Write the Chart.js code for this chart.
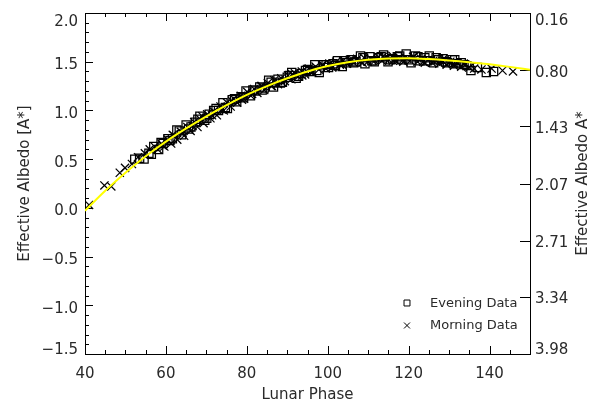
<!DOCTYPE html>
<html>
<head>
<meta charset="utf-8">
<script src="https://cdn.jsdelivr.net/npm/chart.js@4.4.0/dist/chart.umd.min.js"></script>
<style>
  html, body { margin: 0; padding: 0; background: #fff; }
  #wrap { width: 593px; height: 401px; }
</style>
</head>
<body>
<div id="wrap"><canvas id="c" width="593" height="401"></canvas></div>
<script>
// Evening observations (squares)
const eveningPhase = [52.3, 53.5, 54.6, 55.8, 57.0, 58.2, 59.3, 60.5, 61.6, 62.7, 63.9, 65.0, 66.2, 67.3, 68.4,
  69.6, 70.7, 71.8, 73.0, 74.1, 75.2, 76.4, 77.5, 78.6, 79.8, 80.9, 82.0, 83.2, 84.3, 85.4, 86.6, 87.7, 88.8,
  90.0, 91.1, 92.2, 93.4, 94.5, 95.6, 96.8, 97.9, 99.0, 100.2, 101.3, 102.4, 103.6, 104.7, 105.8, 107.0, 108.1,
  109.2, 110.4, 111.5, 112.6, 113.8, 114.9, 116.0, 117.2, 118.3, 119.4, 120.6, 121.7, 122.8, 124.0, 125.1,
  126.2, 127.4, 128.5, 129.6, 130.8, 131.9, 133.0, 134.4, 135.4, 137.0, 139.2, 141.0,
  56.4, 58.8, 61.0, 63.3, 65.6, 67.9, 70.1, 72.4, 74.7, 77.0, 79.2, 81.5, 83.8, 86.0, 88.3, 90.6, 92.8,
  95.0, 97.3, 99.6, 101.9, 104.1, 106.4, 108.7, 110.9, 113.2, 115.5, 117.8, 120.0, 122.3, 124.6, 126.8,
  129.1, 131.4, 133.7];
const eveningAlbedo = [0.50, 0.51, 0.50, 0.56, 0.63, 0.60, 0.66, 0.71, 0.71, 0.80, 0.75, 0.85, 0.83, 0.88, 0.94,
  0.90, 0.96, 1.00, 1.00, 1.08, 1.02, 1.11, 1.09, 1.14, 1.20, 1.15, 1.20, 1.24, 1.23, 1.31, 1.24, 1.32, 1.29,
  1.34, 1.39, 1.33, 1.38, 1.41, 1.40, 1.47, 1.39, 1.47, 1.44, 1.48, 1.51, 1.45, 1.49, 1.52, 1.50, 1.56,
  1.48, 1.55, 1.50, 1.54, 1.57, 1.50, 1.53, 1.55, 1.52, 1.58, 1.49, 1.56, 1.51, 1.54, 1.56,
  1.49, 1.52, 1.53, 1.49, 1.52, 1.48, 1.49, 1.46, 1.41, 1.44, 1.39, 1.40,
  0.55, 0.67, 0.69, 0.79, 0.81, 0.91, 0.92, 1.02, 1.03, 1.12, 1.13, 1.21, 1.21, 1.29, 1.28, 1.36, 1.35,
  1.42, 1.41, 1.47, 1.46, 1.51, 1.49, 1.54, 1.51, 1.55, 1.52, 1.56, 1.52, 1.55, 1.51, 1.54,
  1.50, 1.52, 1.47];

// Morning observations (crosses)
const morningPhase = [41.0, 44.8, 46.5, 48.6, 49.9, 51.6, 53.1, 54.8, 56.0, 57.2, 58.0, 58.9, 59.6, 60.4, 61.3,
  62.0, 62.8, 63.7, 64.5, 65.3, 66.1, 67.0, 67.8, 68.5, 69.3, 70.2, 71.0, 71.8, 72.6, 73.5, 74.3, 75.1, 76.0,
  76.8, 77.6, 78.5, 79.3, 80.1, 81.0, 81.8, 82.6, 83.5, 84.3, 85.2, 86.0, 86.8, 87.7, 88.5, 89.4, 90.2, 91.0,
  91.9, 92.7, 93.6, 94.4, 95.3, 96.1, 97.0, 97.8, 98.7, 99.5, 100.4, 101.2, 102.1, 103.0, 103.8, 104.7, 105.5,
  106.4, 107.3, 108.1, 109.0, 109.9, 110.7, 111.6, 112.5, 113.4, 114.2, 115.1, 116.0, 116.9, 117.8, 118.7,
  119.5, 120.4, 121.3, 122.2, 123.1, 124.0, 124.9, 125.8, 126.7, 127.6, 128.5, 129.4, 130.3, 131.2, 132.1,
  133.0, 134.0, 135.0, 136.2, 138.0, 145.8,
  59.2, 61.7, 64.1, 66.6, 69.0, 71.4, 73.9, 76.3, 78.8, 81.3, 83.7, 86.2, 88.7, 91.2, 93.7, 96.2, 98.6,
  101.1, 103.6, 106.1, 108.6, 111.1, 113.6, 116.1, 118.6, 121.1, 123.6, 126.1, 128.6, 131.1, 133.6, 140.5, 143.2];
const morningAlbedo = [0.03, 0.23, 0.22, 0.36, 0.41, 0.45, 0.52, 0.56, 0.60, 0.63, 0.60, 0.66, 0.63, 0.70, 0.66,
  0.74, 0.70, 0.78, 0.74, 0.83, 0.79, 0.88, 0.83, 0.91, 0.87, 0.96, 0.92, 0.99, 0.95, 1.04, 1.00, 1.08, 1.04,
  1.12, 1.08, 1.15, 1.12, 1.19, 1.15, 1.22, 1.18, 1.25, 1.21, 1.28, 1.25, 1.31, 1.27, 1.33, 1.30, 1.36, 1.32,
  1.38, 1.35, 1.40, 1.37, 1.43, 1.40, 1.45, 1.42, 1.47, 1.43, 1.48, 1.45, 1.50, 1.47, 1.51, 1.48, 1.52,
  1.49, 1.53, 1.50, 1.54, 1.50, 1.53, 1.51, 1.55, 1.51, 1.54, 1.52, 1.56, 1.51, 1.54, 1.50,
  1.53, 1.51, 1.55, 1.50, 1.53, 1.49, 1.52, 1.49, 1.51, 1.48, 1.50, 1.47, 1.50, 1.46, 1.48,
  1.45, 1.47, 1.44, 1.43, 1.42, 1.40,
  0.64, 0.75, 0.77, 0.84, 0.94, 0.95, 1.01, 1.10, 1.11, 1.17, 1.25, 1.25, 1.29, 1.37, 1.36, 1.39, 1.46,
  1.44, 1.47, 1.52, 1.49, 1.51, 1.55, 1.51, 1.52, 1.55, 1.50, 1.51, 1.53, 1.48, 1.48, 1.43, 1.41];

// Fitted phase curve
const fitPhase = [40, 45, 50, 55, 60, 65, 70, 75, 80, 85, 90, 95, 100, 105, 110, 115, 120, 125, 130, 135, 140, 145, 150];
const fitAlbedo = [-0.03, 0.175, 0.36, 0.53, 0.68, 0.815, 0.94, 1.055, 1.16, 1.25, 1.33, 1.40, 1.455, 1.495,
  1.52, 1.533, 1.535, 1.527, 1.513, 1.495, 1.473, 1.447, 1.418];

// Axis ticks and labels
const xMajorTicks = [40, 60, 80, 100, 120, 140];
const xTickLabels = ['40', '60', '80', '100', '120', '140'];
const leftMajorTicks = [2.0, 1.5, 1.0, 0.5, 0.0, -0.5, -1.0, -1.5];
const leftTickLabels = ['2.0', '1.5', '1.0', '0.5', '0.0', '\u22120.5', '\u22121.0', '\u22121.5'];
const rightTicks = [0.16, 0.80, 1.43, 2.07, 2.71, 3.34, 3.98];
const rightTickLabels = ['0.16', '0.80', '1.43', '2.07', '2.71', '3.34', '3.98'];

const FONT = '"DejaVu Sans", sans-serif';
const INK = '#2a2a2a';

function minorList(lo, hi, step) {
  const out = [];
  for (let v = lo; v <= hi + 1e-9; v += step) out.push(Math.round(v * 1000) / 1000);
  return out;
}

const frame = {
  id: 'frame',
  beforeDatasetsDraw(chart) {
    const { ctx, chartArea: a, scales } = chart;
    const x = scales.x, y = scales.y, y2 = scales.y2;
    ctx.save();
    ctx.strokeStyle = '#000';
    ctx.lineWidth = 1;
    ctx.beginPath();
    ctx.rect(a.left + 0.5, a.top + 0.5, a.right - a.left, a.bottom - a.top);
    ctx.stroke();

    ctx.beginPath();
    // bottom & top ticks
    minorList(40, 150, 5).forEach(v => {
      const px = Math.round(x.getPixelForValue(v)) + 0.5;
      const len = (v % 20 === 0) ? 8 : 4;
      ctx.moveTo(px, a.bottom); ctx.lineTo(px, a.bottom - len);
      ctx.moveTo(px, a.top); ctx.lineTo(px, a.top + len);
    });
    // left ticks
    minorList(-1.5, 2.0, 0.1).forEach(v => {
      const py = Math.round(y.getPixelForValue(v)) + 0.5;
      const major = Math.abs(v * 2 - Math.round(v * 2)) < 1e-6;
      ctx.moveTo(a.left, py); ctx.lineTo(a.left + (major ? 8 : 4), py);
    });
    // right ticks
    rightTicks.forEach(v => {
      const py = Math.round(y2.getPixelForValue(v)) + 0.5;
      ctx.moveTo(a.right + 1, py); ctx.lineTo(a.right - 10, py);
    });
    ctx.stroke();
    ctx.restore();
  },
  afterDraw(chart) {
    const { ctx, chartArea: a, scales } = chart;
    const x = scales.x, y = scales.y, y2 = scales.y2;
    ctx.save();
    ctx.fillStyle = INK;
    ctx.font = '15px ' + FONT;
    const cap = 5.5;
    const clamp = (v, lo, hi) => Math.max(lo, Math.min(hi, v));

    ctx.textAlign = 'center';
    xMajorTicks.forEach((v, i) => {
      ctx.fillText(xTickLabels[i], x.getPixelForValue(v), 372 + cap);
    });
    ctx.textAlign = 'right';
    leftMajorTicks.forEach((v, i) => {
      const cy = clamp(y.getPixelForValue(v) + 2, 20.5, 348.5);
      ctx.fillText(leftTickLabels[i], a.left - 7, cy + cap);
    });
    ctx.textAlign = 'left';
    rightTicks.forEach((v, i) => {
      const cy = clamp(y2.getPixelForValue(v) + 1, 19.5, 348.5);
      ctx.fillText(rightTickLabels[i], a.right + 5, cy + cap);
    });

    ctx.textAlign = 'center';
    ctx.fillText('Lunar Phase', (a.left + a.right) / 2, 393 + cap);

    const vtitle = (text, cx, cy) => {
      ctx.save();
      ctx.translate(cx, cy);
      ctx.rotate(-Math.PI / 2);
      ctx.textAlign = 'center';
      ctx.fillText(text, 0, cap);
      ctx.restore();
    };
    vtitle('Effective Albedo [A*]', 23.5, (a.top + a.bottom) / 2);
    vtitle('Effective Albedo A*', 581, (a.top + a.bottom) / 2);

    // legend
    ctx.save();
    ctx.strokeStyle = '#000';
    ctx.fillStyle = 'rgba(0,0,0,0)';
    ctx.lineWidth = 1;
    Chart.helpers.drawPoint(ctx, { pointStyle: 'rect', radius: 4.2, borderWidth: 1 }, 407, 303);
    Chart.helpers.drawPoint(ctx, { pointStyle: 'crossRot', radius: 4.2, borderWidth: 1 }, 407, 325.5);
    ctx.restore();
    ctx.font = '13px ' + FONT;
    ctx.textAlign = 'left';
    ctx.fillText('Evening Data', 430, 302.5 + 4.7);
    ctx.fillText('Morning Data', 430, 324.5 + 4.7);
    ctx.restore();
  }
};

const toPts = (xs, ys) => xs.map((v, i) => ({ x: v, y: ys[i] }));

new Chart(document.getElementById('c'), {
  type: 'scatter',
  data: {
    datasets: [
      {
        type: 'line',
        label: 'Fit',
        data: toPts(fitPhase, fitAlbedo),
        borderColor: '#ffff00',
        borderWidth: 2,
        pointRadius: 0,
        cubicInterpolationMode: 'monotone',
        fill: false,
        order: 0
      },
      {
        label: 'Evening Data',
        data: toPts(eveningPhase, eveningAlbedo),
        pointStyle: 'rect',
        pointRadius: 5.8,
        borderColor: '#000',
        backgroundColor: 'rgba(0,0,0,0)',
        borderWidth: 1.25,
        order: 2
      },
      {
        label: 'Morning Data',
        data: toPts(morningPhase, morningAlbedo),
        pointStyle: 'crossRot',
        pointRadius: 5.8,
        borderColor: '#000',
        backgroundColor: '#000',
        borderWidth: 1.25,
        order: 1
      }
    ]
  },
  options: {
    responsive: false,
    animation: false,
    devicePixelRatio: 1,
    layout: { padding: { left: 85, right: 63, top: 13, bottom: 47 } },
    plugins: { legend: { display: false }, tooltip: { enabled: false } },
    scales: {
      x: { type: 'linear', min: 40, max: 150, display: false },
      y: { type: 'linear', min: -1.5, max: 2.0, display: false },
      y2: { type: 'linear', min: 0.16, max: 3.98, reverse: true, display: false }
    }
  },
  plugins: [frame]
});
</script>
</body>
</html>
